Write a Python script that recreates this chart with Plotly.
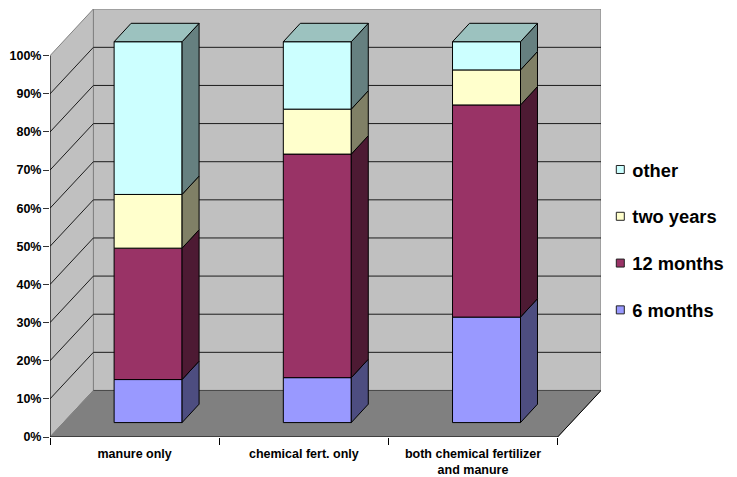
import plotly.graph_objects as go

categories = ["manure only", "chemical fert. only", "both chemical fertilizer<br>and manure"]
six_months = [11.3, 11.8, 27.7]
twelve_months = [34.5, 58.7, 55.7]
two_years = [14.1, 11.8, 9.2]
other = [40.1, 17.7, 7.4]
y_ticks = list(range(0, 101, 10))
y_tick_labels = [f"{v}%" for v in y_ticks]

series = [
    ("6 months", six_months, "#9999FF", "#4D4D80"),
    ("12 months", twelve_months, "#993366", "#4D1A33"),
    ("two years", two_years, "#FFFFCC", "#808066"),
    ("other", other, "#CCFFFF", "#668080"),
]
TOP_COLOR = "#9CC2BF"

# page geometry (pixels)
W, H = 737, 477
LEFT, RIGHT_WALL, FRONT_RIGHT = 49.5, 600.7, 557.3
BOTTOM, TOP_WALL = 436.7, 9.0
PX_X = (FRONT_RIGHT - LEFT) / 3
PX_Y = 3.81
DX = (RIGHT_WALL - FRONT_RIGHT) / PX_X   # wall depth in axis units
DY = (BOTTOM - 390.2) / PX_Y
XMAX = 3 + DX
YMAX = (BOTTOM - TOP_WALL) / PX_Y
BAR_W = 68 / PX_X
BAR_DX = 17 / PX_X
BAR_DY = 18.4 / PX_Y
SHIFT_X = 13.5 / PX_X
SHIFT_Y = 14.4 / PX_Y
BAR_SCALE = 380.6 / 381


def poly(points, fill, color, width=1, layer="below"):
    path = "M" + " L".join(f"{x},{y}" for x, y in points) + " Z"
    return dict(type="path", path=path, fillcolor=fill, layer=layer,
                line=dict(color=color, width=width), xref="x", yref="y")


def seg(x0, y0, x1, y1, color="#1c1c1c", width=1, layer="below"):
    return dict(type="line", x0=x0, y0=y0, x1=x1, y1=y1, xref="x", yref="y",
                layer=layer, line=dict(color=color, width=width))


shapes = [
    poly([(DX, DY), (XMAX, DY), (XMAX, YMAX), (DX, YMAX)], "#C0C0C0", "#808080"),
    poly([(0, 0), (DX, DY), (DX, YMAX), (0, 100)], "#C0C0C0", "#808080"),
    poly([(0, 0), (3, 0), (XMAX, DY), (DX, DY)], "#808080", "#808080"),
]
for t in y_ticks[1:-1]:
    shapes.append(seg(0, t, DX, t + DY))
    shapes.append(seg(DX, t + DY, XMAX, t + DY))
shapes.append(seg(DX, DY, XMAX, DY, "#4a4a4a"))
shapes.append(seg(0, 0, 0, 100, "#000000"))
shapes.append(seg(0, 0, 3, 0, "#000000"))
shapes.append(seg(3, 0, XMAX, DY, "#000000"))

fig = go.Figure()
centers = [i + 0.5 + SHIFT_X for i in range(3)]
bases = [SHIFT_Y] * 3

for name, vals, color, side in series:
    hts = [v * BAR_SCALE for v in vals]
    fig.add_trace(go.Bar(x=centers, y=hts, base=list(bases), width=BAR_W, name=name,
                         marker=dict(color=color, line=dict(color="#000000", width=1)),
                         showlegend=False, legendgroup=name, hoverinfo="skip"))
    for cx, b, h in zip(centers, bases, hts):
        r = cx + BAR_W / 2
        fig.add_trace(go.Scatter(
            x=[r, r + BAR_DX, r + BAR_DX, r, r],
            y=[b, b + BAR_DY, b + h + BAR_DY, b + h, b],
            mode="lines", fill="toself", fillcolor=side,
            line=dict(color="#000000", width=1), showlegend=False, hoverinfo="skip"))
    bases = [b + h for b, h in zip(bases, hts)]

for cx, b in zip(centers, bases):
    l, r = cx - BAR_W / 2, cx + BAR_W / 2
    fig.add_trace(go.Scatter(
        x=[l, r, r + BAR_DX, l + BAR_DX, l],
        y=[b, b, b + BAR_DY, b + BAR_DY, b],
        mode="lines", fill="toself", fillcolor=TOP_COLOR,
        line=dict(color="#000000", width=1), showlegend=False, hoverinfo="skip"))

for name, vals, color, side in reversed(series):
    fig.add_trace(go.Scatter(x=[None], y=[None], mode="markers", name=name, legendgroup=name,
                             marker=dict(symbol="square", size=8, color=color,
                                         line=dict(color="#222222", width=1))))

FONT = "Liberation Sans, Arial, sans-serif"
fig.update_layout(
    width=W, height=H, autosize=False, barmode="overlay",
    paper_bgcolor="#FFFFFF", plot_bgcolor="#FFFFFF",
    margin=dict(l=LEFT, r=W - RIGHT_WALL, t=TOP_WALL, b=H - BOTTOM, pad=0, autoexpand=False),
    shapes=shapes, hovermode=False,
    font=dict(family=FONT, color="#000000"),
    legend=dict(x=(592 - LEFT) / (RIGHT_WALL - LEFT), xanchor="left",
                y=(BOTTOM - 151) / (BOTTOM - TOP_WALL), yanchor="top",
                traceorder="grouped", tracegroupgap=20,
                font=dict(family=FONT, size=18.3, color="#000000", weight="bold"),
                bgcolor="rgba(0,0,0,0)", borderwidth=0, itemclick=False, itemdoubleclick=False),
    xaxis=dict(range=[0, XMAX], showgrid=False, zeroline=False, showline=False, automargin=False,
               tickmode="array", tickvals=[0.5, 1.5, 2.5], ticktext=categories,
               ticks="outside", ticklen=5, tickcolor="rgba(0,0,0,0)",
               tickfont=dict(family=FONT, size=12.5, color="#000000", weight="bold"),
               minor=dict(dtick=1, tick0=0, ticks="outside", ticklen=7, tickcolor="#000000",
                          tickwidth=1, showgrid=False)),
    yaxis=dict(range=[0, YMAX], showgrid=False, zeroline=False, showline=False, automargin=False,
               tickmode="array", tickvals=y_ticks, ticktext=y_tick_labels,
               ticks="outside", ticklen=6, tickcolor="#333333", tickwidth=1,
               ticklabelstandoff=-1,
               tickfont=dict(family=FONT, size=12.5, color="#000000", weight="bold")),
)
fig.write_html("out.html", config={"displayModeBar": False},
               post_script="document.body.style.margin='0';document.documentElement.style.overflow='hidden';"
                           "document.querySelectorAll('.legendsymbols').forEach(function(g){g.setAttribute('transform','translate(8,0)');});")
